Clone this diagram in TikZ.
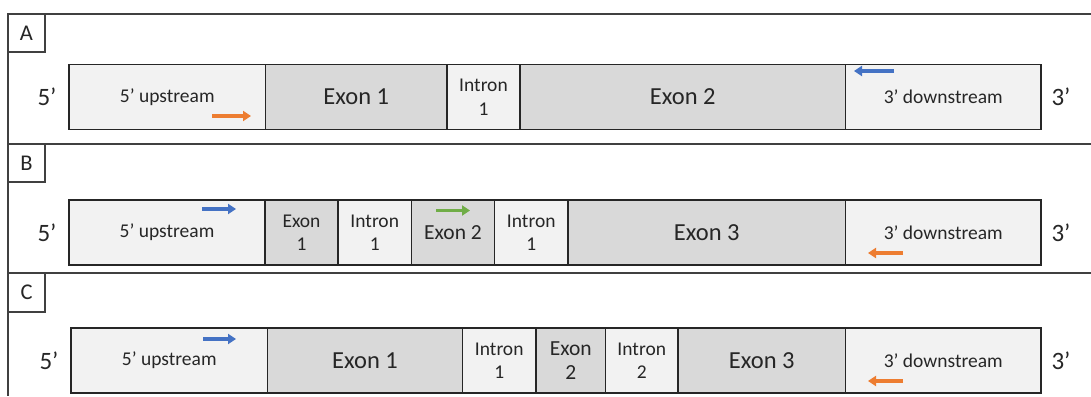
\documentclass[tikz,border=0pt]{standalone}
\usepackage{fontspec}
\setmainfont{Carlito}
\usetikzlibrary{arrows.meta}
\definecolor{lite}{HTML}{F2F2F2}
\definecolor{dark}{HTML}{D9D9D9}
\definecolor{ink}{HTML}{262626}
\definecolor{frame}{HTML}{404040}
\definecolor{porange}{HTML}{ED7D31}
\definecolor{pblue}{HTML}{4472C4}
\definecolor{pgreen}{HTML}{70AD47}
\tikzset{
  seg/.style={draw=ink, line width=1.6pt, inner sep=0pt, text=ink, align=center, font=\fontsize{19.5}{23.5}\selectfont},
  litebox/.style={seg, fill=lite},
  darkbox/.style={seg, fill=dark},
  big/.style={font=\fontsize{24.5}{28}\selectfont},
  mid/.style={font=\fontsize{21.5}{24.5}\selectfont},
  endlabel/.style={text=ink, font=\fontsize{25}{28}\selectfont, inner sep=0pt},
  tagbox/.style={draw=frame, line width=1.3pt, fill=white, inner sep=0pt, text=ink, font=\fontsize{22.5}{26}\selectfont},
  frameline/.style={draw=frame, line width=1.3pt},
  primer/.style={line width=3.2pt, -{Triangle[length=8pt,width=10pt]}},
}
\begin{document}
\begin{tikzpicture}[x=1pt,y=-1pt]
\useasboundingbox (0,0) rectangle (1091,396);
% frames
\draw[frameline] (1091,14) -- (8,14) -- (8,396);
\draw[frameline] (8,144) -- (1091,144);
\draw[frameline] (8,273) -- (1091,273);
\node[tagbox, minimum width=37pt, minimum height=38pt] (tA) at (26.5,33) {A};
\node[tagbox, minimum width=37pt, minimum height=38pt] (tB) at (26.5,163) {B};
\node[tagbox, minimum width=37pt, minimum height=39pt] (tC) at (26.5,292.5) {C};

% ---------- Panel A ----------
\begin{scope}[every node/.append style={minimum height=65pt}]
\node[litebox, minimum width=196.5pt] (aUp) at (167.25,97) {5’ upstream};
\node[darkbox, big, minimum width=181.5pt] (aE1) at (356.25,97) {Exon 1};
\node[litebox, minimum width=73pt] (aI1) at (483.5,97) {Intron\\1};
\node[darkbox, big, minimum width=325.5pt] (aE2) at (682.75,97) {Exon 2};
\node[litebox, minimum width=195.5pt] (aDn) at (943.25,97) {3’ downstream};
\end{scope}
\node[endlabel] (a5) at (47,97) {5’};
\node[endlabel] (a3) at (1061,97) {3’};
\draw[primer, porange] (212,116) -- (251,116);
\draw[primer, pblue] (894,71) -- (854,71);

% ---------- Panel B ----------
\begin{scope}[every node/.append style={minimum height=65pt}]
\node[litebox, minimum width=196pt] (bUp) at (167,232.5) {5’ upstream};
\node[darkbox, minimum width=73pt] (bE1) at (301.5,232.5) {Exon\\1};
\node[litebox, minimum width=73.5pt] (bI1) at (374.75,232.5) {Intron\\1};
\node[darkbox, mid, minimum width=83pt] (bE2) at (453,232.5) {Exon 2};
\node[litebox, minimum width=73.5pt] (bI2) at (531.25,232.5) {Intron\\1};
\node[darkbox, big, minimum width=277.5pt] (bE3) at (706.75,232.5) {Exon 3};
\node[litebox, minimum width=195.5pt] (bDn) at (943.25,232.5) {3’ downstream};
\end{scope}
\node[endlabel] (b5) at (47,232.5) {5’};
\node[endlabel] (b3) at (1061,232.5) {3’};
\draw[primer, pblue] (202,209) -- (236,209);
\draw[primer, pgreen] (436,210.5) -- (470,210.5);
\draw[primer, porange] (903,253) -- (868,253);

% ---------- Panel C ----------
\begin{scope}[every node/.append style={minimum height=65pt}]
\node[litebox, minimum width=196.5pt] (cUp) at (169.25,360.5) {5’ upstream};
\node[darkbox, big, minimum width=195pt] (cE1) at (365,360.5) {Exon 1};
\node[litebox, minimum width=73.5pt] (cI1) at (499.25,360.5) {Intron\\1};
\node[darkbox, mid, minimum width=69.5pt] (cE2) at (570.75,360.5) {Exon\\2};
\node[litebox, minimum width=72.5pt] (cI2) at (641.75,360.5) {Intron\\2};
\node[darkbox, big, minimum width=167.5pt] (cE3) at (761.75,360.5) {Exon 3};
\node[litebox, minimum width=195.5pt] (cDn) at (943.25,360.5) {3’ downstream};
\end{scope}
\node[endlabel] (c5) at (49,360.5) {5’};
\node[endlabel] (c3) at (1061,360.5) {3’};
\draw[primer, pblue] (203,339) -- (236,339);
\draw[primer, porange] (903,381) -- (868,381);
\end{tikzpicture}
\end{document}
